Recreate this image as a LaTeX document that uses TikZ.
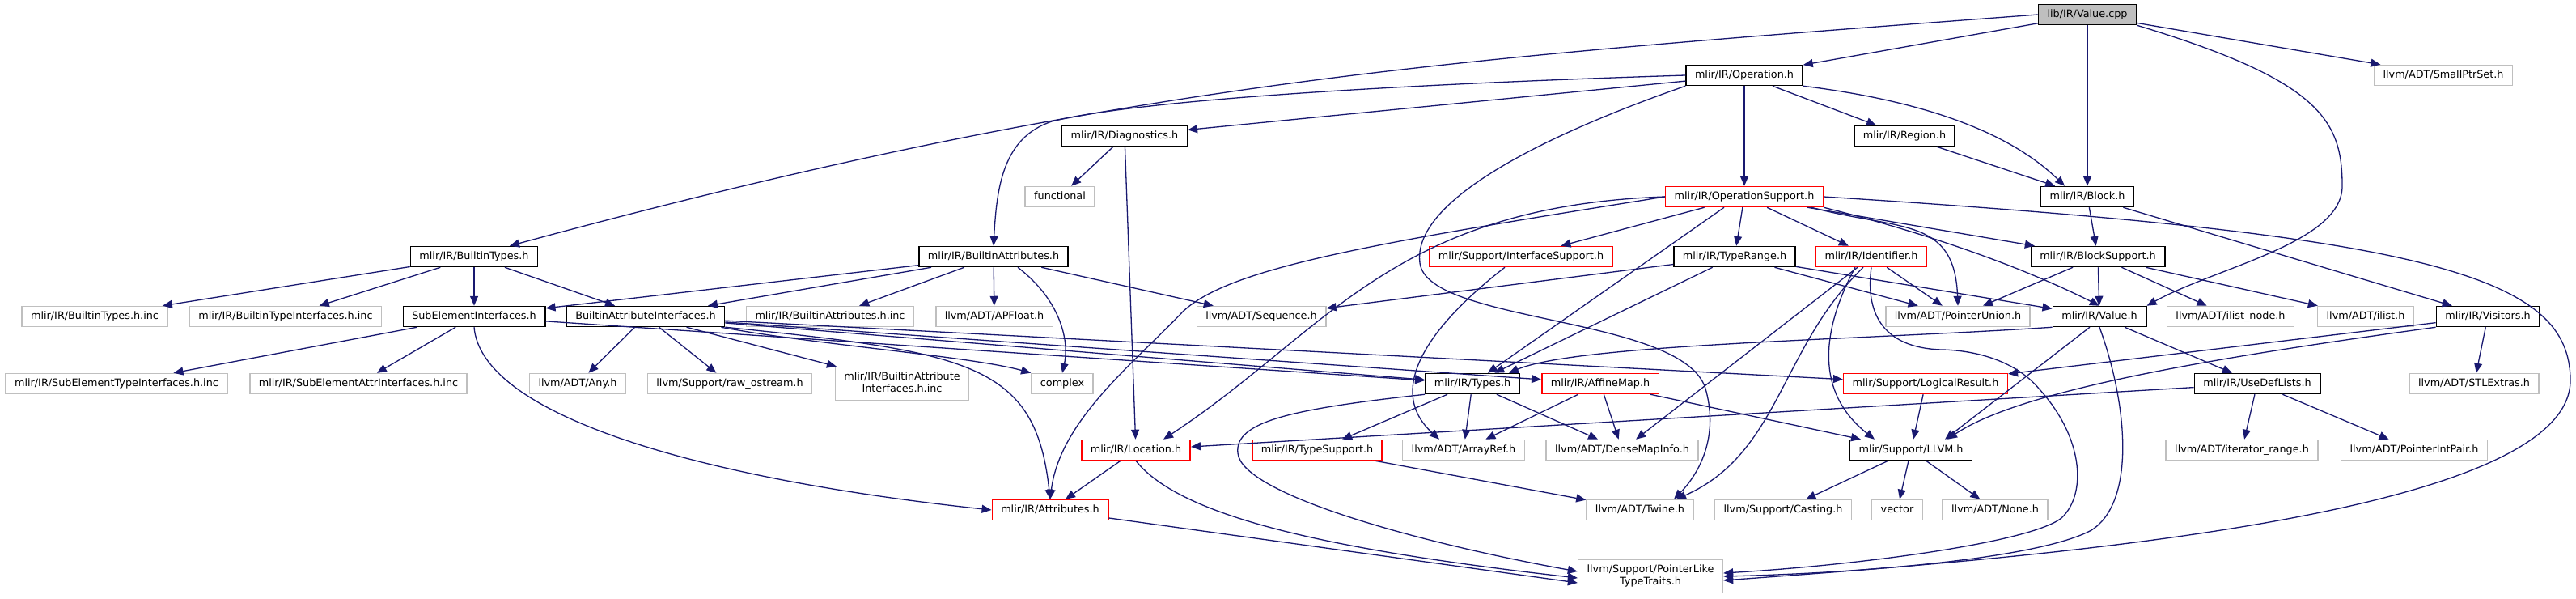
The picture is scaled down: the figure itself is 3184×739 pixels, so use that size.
\documentclass[tikz,border=0pt]{standalone}
\usepackage{fontspec}
\usepackage{tikz}
\usetikzlibrary{arrows.meta,calc}
\newfontfamily\doxfont{DejaVu Sans}
\definecolor{EdgeBlue}{RGB}{25,25,112}
\definecolor{ExtGray}{RGB}{191,191,191}
\definecolor{RootGray}{RGB}{191,191,191}
\definecolor{TruncRed}{RGB}{255,0,0}

\begin{document}
\begin{tikzpicture}[x=1pt,y=1pt,
  n/.style={rectangle,draw=black,line width=1.5pt,fill=white,font={\doxfont\fontsize{12.8}{14.7}\selectfont},
    inner xsep=11pt,inner ysep=0pt,minimum height=25pt,text height=9.5pt,text depth=3pt,align=center},
  ext/.style={n,draw=ExtGray},
  trc/.style={n,draw=TruncRed},
  root/.style={n,fill=RootGray},
  two/.style={minimum height=41pt,text height=24.2pt,text depth=3pt},
  inc/.style={-{Triangle[length=12pt,width=10pt]},draw=EdgeBlue,line width=1.3pt}
]
  \fill[white] (0,0) rectangle (3184,-739);
  \useasboundingbox (0,0) rectangle (3184,-739);

  \node[root] (valcpp) at (2580,-18) {lib/IR/Value.cpp};
  \node[ext] (smallptr) at (3020,-93) {llvm/ADT/SmallPtrSet.h};
  \node[n] (oper) at (2156,-93) {mlir/IR/Operation.h};
  \node[n] (diag) at (1390,-168) {mlir/IR/Diagnostics.h};
  \node[n] (region) at (2354,-168) {mlir/IR/Region.h};
  \node[ext] (functional) at (1310,-243) {functional};
  \node[trc] (opsup) at (2156,-243) {mlir/IR/OperationSupport.h};
  \node[n] (block) at (2580,-243) {mlir/IR/Block.h};
  \node[n] (btypes) at (586,-317) {mlir/IR/BuiltinTypes.h};
  \node[n] (battr) at (1228,-317) {mlir/IR/BuiltinAttributes.h};
  \node[trc] (ifsup) at (1880,-317) {mlir/Support/InterfaceSupport.h};
  \node[n] (trange) at (2144,-317) {mlir/IR/TypeRange.h};
  \node[trc] (ident) at (2313,-317) {mlir/IR/Identifier.h};
  \node[n] (bsup) at (2593,-317) {mlir/IR/BlockSupport.h};
  \node[ext] (btinc) at (117,-391) {mlir/IR/BuiltinTypes.h.inc};
  \node[ext] (btiinc) at (353,-391) {mlir/IR/BuiltinTypeInterfaces.h.inc};
  \node[n] (subel) at (586,-391) {SubElementInterfaces.h};
  \node[n] (baiface) at (798,-391) {BuiltinAttributeInterfaces.h};
  \node[ext] (bainc) at (1026,-391) {mlir/IR/BuiltinAttributes.h.inc};
  \node[ext] (apfloat) at (1229,-391) {llvm/ADT/APFloat.h};
  \node[ext] (seq) at (1559,-391) {llvm/ADT/Sequence.h};
  \node[ext] (ptrunion) at (2420,-391) {llvm/ADT/PointerUnion.h};
  \node[n] (value) at (2595,-391) {mlir/IR/Value.h};
  \node[ext] (ilistnode) at (2757,-391) {llvm/ADT/ilist\_node.h};
  \node[ext] (ilist) at (2924,-391) {llvm/ADT/ilist.h};
  \node[n] (visitors) at (3075,-391) {mlir/IR/Visitors.h};
  \node[ext] (setinc) at (144,-474) {mlir/IR/SubElementTypeInterfaces.h.inc};
  \node[ext] (saiinc) at (443,-474) {mlir/IR/SubElementAttrInterfaces.h.inc};
  \node[ext] (any) at (714,-474) {llvm/ADT/Any.h};
  \node[ext] (rawos) at (902,-474) {llvm/Support/raw\_ostream.h};
  \node[ext,two] (baiinc) at (1115,-474) {mlir/IR/BuiltinAttribute\\Interfaces.h.inc};
  \node[ext] (complex) at (1313,-474) {complex};
  \node[n] (types) at (1820,-474) {mlir/IR/Types.h};
  \node[trc] (affine) at (1978,-474) {mlir/IR/AffineMap.h};
  \node[trc] (logres) at (2380,-474) {mlir/Support/LogicalResult.h};
  \node[n] (usedef) at (2790,-474) {mlir/IR/UseDefLists.h};
  \node[ext] (stlextras) at (3058,-474) {llvm/ADT/STLExtras.h};
  \node[trc] (location) at (1404,-556) {mlir/IR/Location.h};
  \node[trc] (typesup) at (1628,-556) {mlir/IR/TypeSupport.h};
  \node[ext] (arrayref) at (1809,-556) {llvm/ADT/ArrayRef.h};
  \node[ext] (densemap) at (2005,-556) {llvm/ADT/DenseMapInfo.h};
  \node[n] (llvmh) at (2362,-556) {mlir/Support/LLVM.h};
  \node[ext] (iterrange) at (2771,-556) {llvm/ADT/iterator\_range.h};
  \node[ext] (ptrintpair) at (2984,-556) {llvm/ADT/PointerIntPair.h};
  \node[trc] (attrs) at (1298,-630) {mlir/IR/Attributes.h};
  \node[ext] (twine) at (2027,-630) {llvm/ADT/Twine.h};
  \node[ext] (casting) at (2204,-630) {llvm/Support/Casting.h};
  \node[ext] (vector) at (2345,-630) {vector};
  \node[ext] (none) at (2466,-630) {llvm/ADT/None.h};
  \node[ext,two] (ptrlike) at (2040,-712) {llvm/Support/PointerLike\\TypeTraits.h};

  \draw[inc] (valcpp) -- (oper);
  \draw[inc] (valcpp.west) .. controls (1776,-74) and (1382,-100) .. ($(btypes.north)+(44,0)$);
  \draw[inc] (valcpp) -- (block);
  \draw[inc] (valcpp.south east) .. controls (2870,-100) and (2895,-150) .. (2895,-230) .. controls (2895,-300) and (2740,-330) .. (value.north east);
  \draw[inc] (valcpp) -- (smallptr);
  \draw[inc] (oper) -- (diag);
  \draw[inc] (oper.west) .. controls (1700,-105) and (1400,-125) .. (1300,-150) .. controls (1240,-170) and (1232,-230) .. (battr.north);
  \draw[inc] (oper) -- (opsup);
  \draw[inc] (oper) -- (region);
  \draw[inc] (oper.south east) .. controls (2340,-120) and (2470,-150) .. ($(block.north)+(-28,0)$);
  \draw[inc] (oper.south west) .. controls (1900,-170) and (1745,-250) .. (1755,-325) .. controls (1765,-400) and (2080,-390) .. (2108,-480) .. controls (2125,-540) and (2100,-585) .. ($(twine.north)+(42,0)$);
  \draw[inc] (diag) -- (functional);
  \draw[inc] (diag) -- (location);
  \draw[inc] (region) -- (block);
  \draw[inc] (block) -- (bsup);
  \draw[inc] (block) -- (visitors);
  \draw[inc] (btypes) -- (btinc);
  \draw[inc] (btypes) -- (btiinc);
  \draw[inc] (btypes) -- (subel);
  \draw[inc] (btypes) -- (baiface);
  \draw[inc] (battr) -- (subel);
  \draw[inc] (battr) -- (baiface);
  \draw[inc] (battr) -- (bainc);
  \draw[inc] (battr) -- (apfloat);
  \draw[inc] ($(battr.south)+(30,0)$) .. controls (1310,-370) and (1322,-420) .. (complex.north);
  \draw[inc] (battr) -- (seq);
  \draw[inc] (subel) -- (setinc);
  \draw[inc] (subel) -- (saiinc);
  \draw[inc] (subel.south) .. controls (595,-510) and (850,-590) .. (attrs.west);
  \draw[inc] (subel) -- (types);
  \draw[inc] (baiface) -- (any);
  \draw[inc] (baiface) -- (rawos);
  \draw[inc] (baiface) -- (baiinc);
  \draw[inc] ($(baiface.south east)+(-5,0)$) .. controls (1000,-425) and (1200,-440) .. (complex.north west);
  \draw[inc] (baiface.south east) .. controls (1200,-435) and (1280,-450) .. (attrs.north);
  \draw[inc] (baiface) -- (types);
  \draw[inc] (baiface) -- (affine);
  \draw[inc] (baiface) -- (logres);
  \draw[inc] (opsup) -- (ifsup);
  \draw[inc] (opsup) -- (trange);
  \draw[inc] (opsup) -- (ident);
  \draw[inc] ($(opsup.south)+(-25,0)$) -- (types);
  \draw[inc] (opsup.west) .. controls (1720,-255) and (1640,-410) .. ($(location.north)+(34,0)$);
  \draw[inc] (opsup.west) .. controls (1700,-300) and (1520,-330) .. (1462,-385) .. controls (1400,-450) and (1310,-520) .. (attrs.north);
  \draw[inc] (opsup) -- (bsup);
  \draw[inc] (opsup.south east) .. controls (2350,-280) and (2480,-320) .. (value.north);
  \draw[inc] ($(opsup.south east)+(-15,0)$) .. controls (2347,-285) and (2416,-267) .. (ptrunion.north);
  \draw[inc] (opsup.east) .. controls (3000,-290) and (3177,-340) .. (3177,-470) .. controls (3177,-640) and (2500,-690) .. ($(ptrlike.east)+(0,-5)$);
  \draw[inc] (trange) -- (seq);
  \draw[inc] (trange) -- (types);
  \draw[inc] (trange) -- (ptrunion);
  \draw[inc] (trange) -- (value);
  \draw[inc] (ident) -- (densemap);
  \draw[inc] (ident) -- (ptrunion);
  \draw[inc] ($(ident.south)+(-20,0)$) .. controls (2245,-420) and (2250,-490) .. ($(llvmh.north)+(-45,0)$);
  \draw[inc] ($(ident.south)+(-10,0)$) .. controls (2200,-430) and (2200,-560) .. ($(twine.north)+(45,0)$);
  \draw[inc] (ident.south) .. controls (2305,-390) and (2330,-430) .. (2400,-432) .. controls (2450,-433) and (2495,-450) .. (2520,-480) .. controls (2575,-540) and (2580,-610) .. (2548,-640) .. controls (2510,-670) and (2300,-698) .. ($(ptrlike.east)+(0,4)$);
  \draw[inc] ($(ifsup.south)+(-20,0)$) .. controls (1770,-400) and (1710,-480) .. ($(arrayref.north)+(-30,0)$);
  \draw[inc] (value.south west) .. controls (2300,-420) and (1950,-425) .. ($(types.north east)+(-14,0)$);
  \draw[inc] (value) -- (usedef);
  \draw[inc] ($(value.south)+(-12,0)$) -- ($(llvmh.north)+(42,0)$);
  \draw[inc] (value.south) .. controls (2630,-500) and (2640,-620) .. (2585,-655) .. controls (2520,-690) and (2300,-708) .. (ptrlike.east);
  \draw[inc] (usedef) -- (location);
  \draw[inc] (usedef) -- (iterrange);
  \draw[inc] (usedef) -- (ptrintpair);
  \draw[inc] (visitors) -- (logres);
  \draw[inc] (visitors.south west) .. controls (2750,-440) and (2500,-480) .. ($(llvmh.north)+(45,0)$);
  \draw[inc] (visitors) -- (stlextras);
  \draw[inc] (bsup) -- (ptrunion);
  \draw[inc] (bsup) -- (value);
  \draw[inc] (bsup) -- (ilistnode);
  \draw[inc] (bsup) -- (ilist);
  \draw[inc] (types) -- (typesup);
  \draw[inc] (types) -- (arrayref);
  \draw[inc] (types) -- (densemap);
  \draw[inc] (types.south west) .. controls (1600,-505) and (1525,-520) .. (1530,-560) .. controls (1535,-610) and (1750,-670) .. ($(ptrlike.west)+(0,6)$);
  \draw[inc] (affine) -- (arrayref);
  \draw[inc] (affine) -- (densemap);
  \draw[inc] (affine) -- (llvmh);
  \draw[inc] (location) -- (attrs);
  \draw[inc] (location.south) .. controls (1460,-640) and (1650,-680) .. ($(ptrlike.west)+(0,-2)$);
  \draw[inc] (attrs) -- ($(ptrlike.west)+(0,-8)$);
  \draw[inc] (typesup) -- (twine);
  \draw[inc] (logres) -- (llvmh);
  \draw[inc] (llvmh) -- (casting);
  \draw[inc] (llvmh) -- (vector);
  \draw[inc] (llvmh) -- (none);
\end{tikzpicture}
\end{document}
